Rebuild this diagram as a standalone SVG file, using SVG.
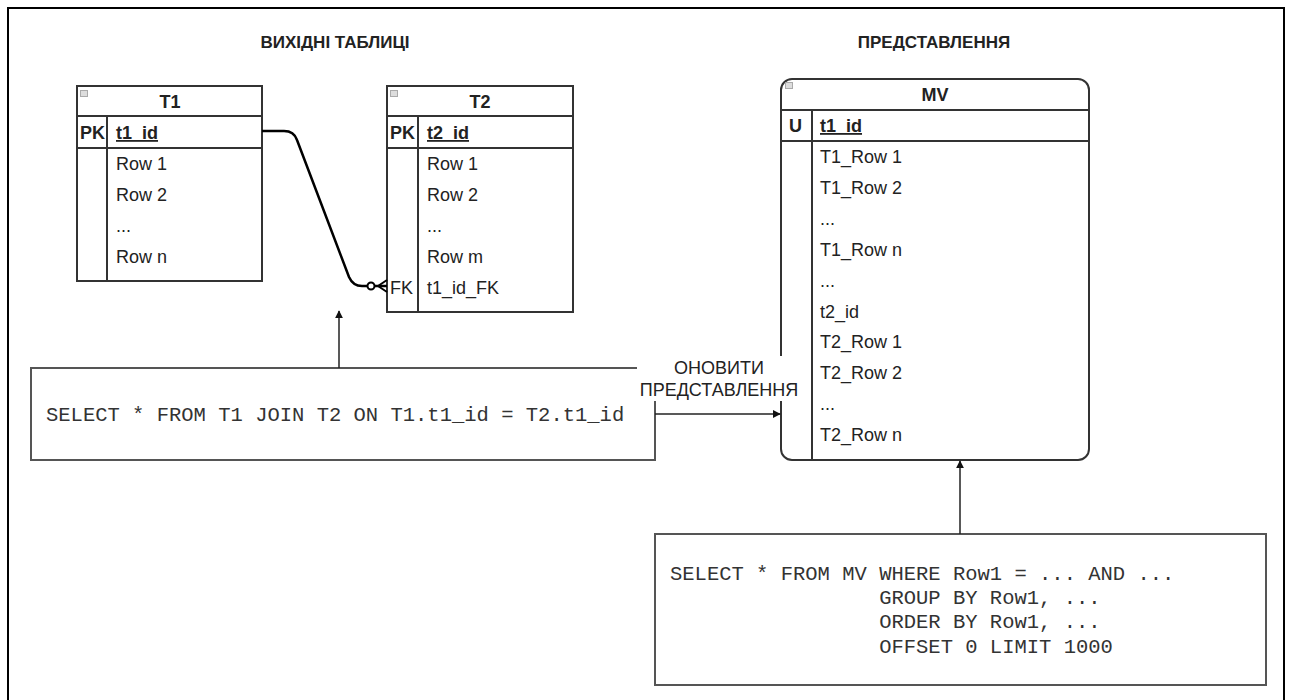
<svg xmlns="http://www.w3.org/2000/svg" width="1289" height="700" viewBox="0 0 1289 700">
<style>
.frame{fill:none;stroke:#000;stroke-width:2}
.tb{fill:#fff;stroke:#333;stroke-width:2}
.ln{stroke:#333;stroke-width:2;fill:none}
.t{font-family:"Liberation Sans",Arial,sans-serif;font-size:18px;fill:#222}
.b{font-weight:bold}
.title{font-family:"Liberation Sans",Arial,sans-serif;font-size:17px;font-weight:bold;fill:#222}
.mono{font-family:"Liberation Mono","Courier New",monospace;font-size:20.5px;fill:#333;white-space:pre}
.box{fill:#fff;stroke:#555;stroke-width:2}
.icon{fill:#ddd;stroke:#aaa;stroke-width:1}
.arr{stroke:#222;stroke-width:1.5;fill:none}
</style>
<defs>
<marker id="ah" viewBox="0 0 10 10" refX="9" refY="5" markerWidth="8" markerHeight="8" markerUnits="userSpaceOnUse" orient="auto">
<path d="M0,0 L10,5 L0,10 z" fill="#111"/>
</marker>
</defs>
<rect width="1289" height="700" fill="#fff"/>
<path class="frame" d="M8,712 L8,8 L1284,8 L1284,712"/>
<text class="title" x="335" y="48" text-anchor="middle">ВИХІДНІ ТАБЛИЦІ</text>
<text class="title" x="934" y="48" text-anchor="middle">ПРЕДСТАВЛЕННЯ</text>

<g id="T1">
<rect class="tb" x="77" y="86" width="185" height="195"/>
<line class="ln" x1="77" y1="116" x2="262" y2="116"/>
<line class="ln" x1="77" y1="148" x2="262" y2="148"/>
<line class="ln" x1="107" y1="116" x2="107" y2="281"/>
<rect class="icon" x="80.5" y="90.5" width="7" height="6"/>
<text class="t b" x="170" y="108" text-anchor="middle">T1</text>
<text class="t b" x="80" y="139">PK</text>
<text class="t b" x="116" y="139" text-decoration="underline">t1_id</text>
<text class="t" x="116" y="170">Row 1</text>
<text class="t" x="116" y="201">Row 2</text>
<text class="t" x="116" y="232" font-size="12">...</text>
<text class="t" x="116" y="263">Row n</text>
</g>

<g id="T2">
<rect class="tb" x="387" y="86" width="186" height="226"/>
<line class="ln" x1="387" y1="116" x2="573" y2="116"/>
<line class="ln" x1="387" y1="148" x2="573" y2="148"/>
<line class="ln" x1="418" y1="116" x2="418" y2="312"/>
<rect class="icon" x="390.5" y="90.5" width="7" height="6"/>
<text class="t b" x="480" y="108" text-anchor="middle">T2</text>
<text class="t b" x="390" y="139">PK</text>
<text class="t b" x="427" y="139" text-decoration="underline">t2_id</text>
<text class="t" x="427" y="170">Row 1</text>
<text class="t" x="427" y="201">Row 2</text>
<text class="t" x="427" y="232" font-size="12">...</text>
<text class="t" x="427" y="263">Row m</text>
<text class="t" x="390" y="294">FK</text>
<text class="t" x="427" y="294">t1_id_FK</text>
</g>

<g id="MV">
<rect class="tb" x="781" y="79" width="308" height="381" rx="11"/>
<line class="ln" x1="781" y1="110" x2="1089" y2="110"/>
<line class="ln" x1="781" y1="141" x2="1089" y2="141"/>
<line class="ln" x1="812" y1="110" x2="812" y2="460"/>
<rect class="icon" x="785.5" y="82.5" width="7" height="6"/>
<text class="t b" x="935" y="101" text-anchor="middle">MV</text>
<text class="t b" x="789" y="132">U</text>
<text class="t b" x="820" y="132" text-decoration="underline">t1_id</text>
<text class="t" x="820" y="163">T1_Row 1</text>
<text class="t" x="820" y="194">T1_Row 2</text>
<text class="t" x="820" y="225" font-size="12">...</text>
<text class="t" x="820" y="256">T1_Row n</text>
<text class="t" x="820" y="287" font-size="12">...</text>
<text class="t" x="820" y="318">t2_id</text>
<text class="t" x="820" y="348">T2_Row 1</text>
<text class="t" x="820" y="379">T2_Row 2</text>
<text class="t" x="820" y="410" font-size="12">...</text>
<text class="t" x="820" y="441">T2_Row n</text>
</g>

<g id="Q1">
<rect class="box" x="31" y="368" width="624" height="92"/>
<text class="mono" x="46" y="421">SELECT * FROM T1 JOIN T2 ON T1.t1_id = T2.t1_id</text>
</g>

<g id="Q2">
<rect class="box" x="655" y="534" width="611" height="151"/>
<text class="mono" x="670" y="580">SELECT * FROM MV WHERE Row1 = ... AND ...</text>
<text class="mono" x="670" y="604">                 GROUP BY Row1, ...</text>
<text class="mono" x="670" y="628">                 ORDER BY Row1, ...</text>
<text class="mono" x="670" y="653">                 OFFSET 0 LIMIT 1000</text>
</g>

<g id="connectors">
<path d="M262,131 L284,131 Q294,131 297,140 L349,277 Q353,286 362,286 L387,286" fill="none" stroke="#000" stroke-width="2.5"/>
<circle cx="371" cy="286" r="3.5" fill="#fff" stroke="#000" stroke-width="2"/>
<path d="M378,286 L387,280 M378,286 L387,286 M378,286 L387,292" stroke="#000" stroke-width="2" fill="none"/>
<line class="arr" x1="339" y1="368" x2="339" y2="311" marker-end="url(#ah)"/>
<line class="arr" x1="960" y1="534" x2="960" y2="461" marker-end="url(#ah)"/>
<rect x="637" y="356" width="164" height="45" fill="#fff"/>
<line class="arr" x1="655" y1="414" x2="780" y2="414" marker-end="url(#ah)"/>
<text class="t" x="719" y="374" text-anchor="middle">ОНОВИТИ</text>
<text class="t" x="719" y="396" text-anchor="middle">ПРЕДСТАВЛЕННЯ</text>
</g>
</svg>
